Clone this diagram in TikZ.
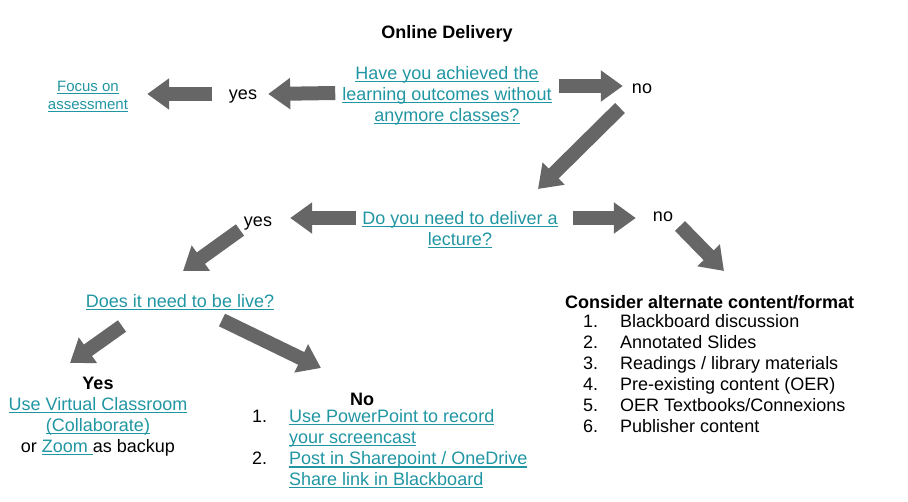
\documentclass[tikz,border=0pt]{standalone}
\usepackage{fontspec}
\setmainfont{Liberation Sans}
\usetikzlibrary{arrows.meta}

\definecolor{linkteal}{RGB}{33,150,163}
\definecolor{arrowgray}{RGB}{102,102,102}
% underlined link text
\newcommand{\lnk}[1]{{\color{linkteal}\setbox0\hbox{#1}\rlap{\rule[-2.6pt]{\wd0}{1.1pt}}\box0}}

\begin{document}
\begin{tikzpicture}[x=1pt, y=-1pt,
  txt/.style={inner sep=0pt, align=center, font=\fontsize{18}{21}\selectfont},
  tag/.style={txt, yshift=-3pt},
  head/.style={tag, font=\fontsize{18}{21}\selectfont\bfseries},
  blk/.style={draw=arrowgray, line width=14pt, -{Triangle[length=22pt, width=30pt]}}
]
\useasboundingbox (0,0) rectangle (908,502);

\node[head] (title) at (447,31) {Online Delivery};
\node[tag] (q1) at (447,93) {\lnk{Have you achieved the}\\ \lnk{learning outcomes without}\\ \lnk{anymore classes?}};
\node[tag] (yesA) at (243,94) {yes};
\node[tag, font=\fontsize{15}{18}\selectfont] (focus) at (88,94) {\lnk{Focus on}\\ \lnk{assessment}};
\node[tag] (noA) at (642,86) {no};

\node[tag] (q2) at (460,227) {\lnk{Do you need to deliver a}\\ \lnk{lecture?}};
\node[tag] (yesB) at (258,221) {yes};
\node[tag] (noB) at (663,214) {no};
\node[tag] (q3) at (180,299) {\lnk{Does it need to be live?}};

\node[txt, anchor=north] (yesbox) at (98,377) {\textbf{Yes}\\ \lnk{Use Virtual Classroom}\\ \lnk{(Collaborate)}\\ or \lnk{Zoom }as backup};
\node[head] (noT) at (362,396) {No};
\node[txt, anchor=north west, align=left] (nolist) at (252,408) {\begin{tabular}{@{}p{37pt}@{}l@{}}
  1. & \lnk{Use PowerPoint to record}\\
     & \lnk{your screencast}\\
  2. & \lnk{Post in Sharepoint / OneDrive}\\
     & \lnk{Share link in Blackboard}
\end{tabular}};

\node[head, anchor=west] (altT) at (565,299) {Consider alternate content/format};
\node[txt, anchor=north west, align=left] (altlist) at (583,313) {\begin{tabular}{@{}p{37pt}@{}l@{}}
  1. & Blackboard discussion\\
  2. & Annotated Slides\\
  3. & Readings / library materials\\
  4. & Pre-existing content (OER)\\
  5. & OER Textbooks/Connexions\\
  6. & Publisher content
\end{tabular}};

% block arrows
\draw[blk] ([shift={(-7,-3)}]q1.west) -- ([shift={(11,-3)}]yesA.east);
\draw[blk] ([shift={(-17,-3)}]yesA.west) -- ([shift={(19,-3)}]focus.east);
\draw[blk] ([shift={(7,-10)}]q1.east) -- ([shift={(-9,-3)}]noA.west);
\draw[blk] ([shift={(-22,19)}]noA.center) -- ([shift={(78,-41)}]q2.center);
\draw[blk] ([shift={(-6,-12)}]q2.west) -- ([shift={(18,-6)}]yesB.east);
\draw[blk] ([shift={(15,-12)}]q2.east) -- ([shift={(-17,1)}]noB.west);
\draw[blk] ([shift={(17,9)}]noB.center) -- ([shift={(159,-31)}]altT.west);
\draw[blk] ([shift={(-18,6)}]yesB.center) -- ([shift={(3,-31)}]q3.center);
\draw[blk] ([shift={(-58,24)}]q3.center) -- ([shift={(-28,-14)}]yesbox.north);
\draw[blk] ([shift={(42,18)}]q3.center) -- ([shift={(-41,-31)}]noT.center);
\end{tikzpicture}
\end{document}
